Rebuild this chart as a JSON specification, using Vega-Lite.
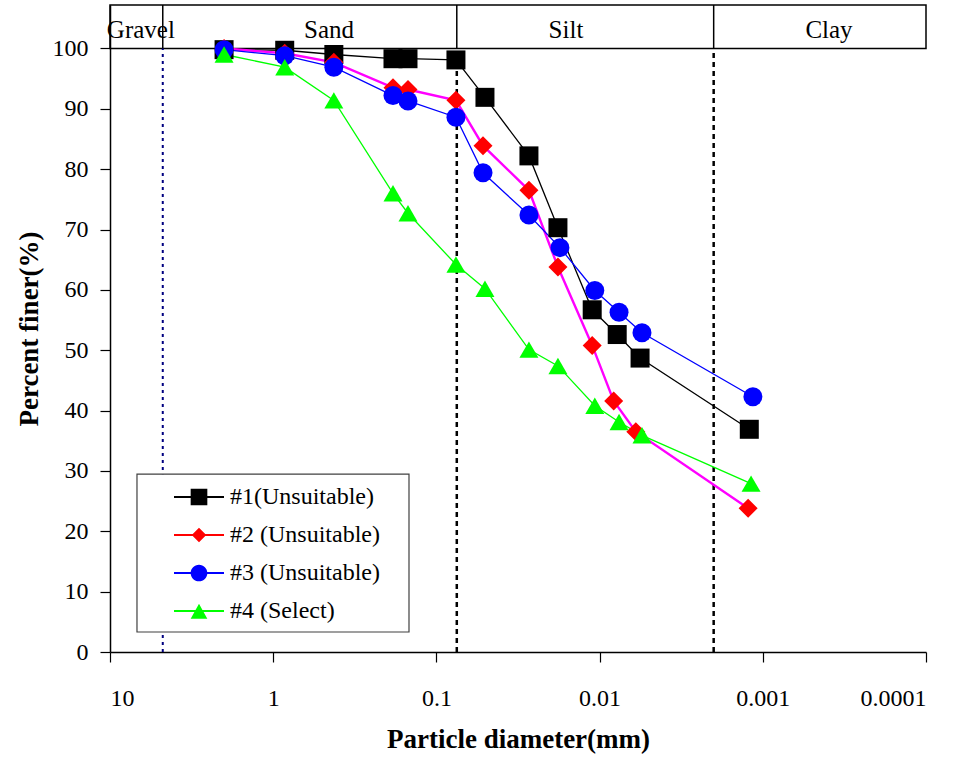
{
  "$schema": "https://vega.github.io/schema/vega-lite/v6.json",
  "width": 816,
  "height": 647,
  "autosize": {"type": "none"},
  "padding": {"left": 110, "top": 5, "right": 38, "bottom": 107},
  "background": "white",
  "config": {
    "view": {"stroke": null},
    "font": "Liberation Serif",
    "axis": {
      "grid": false,
      "domainColor": "black",
      "domainWidth": 1.5,
      "tickColor": "black",
      "tickWidth": 1.2,
      "tickSize": 10,
      "labelFont": "Liberation Serif",
      "labelFontSize": 24,
      "labelColor": "black",
      "titleFont": "Liberation Serif",
      "titleFontSize": 27,
      "titleFontWeight": "bold",
      "titleColor": "black"
    }
  },
  "datasets": {
    "curves": [
      {"series": "#1(Unsuitable)", "d": 2.0, "pct": 99.8},
      {"series": "#1(Unsuitable)", "d": 0.85, "pct": 99.7},
      {"series": "#1(Unsuitable)", "d": 0.425, "pct": 99.0},
      {"series": "#1(Unsuitable)", "d": 0.1845, "pct": 98.3},
      {"series": "#1(Unsuitable)", "d": 0.1493, "pct": 98.3},
      {"series": "#1(Unsuitable)", "d": 0.0759, "pct": 98.1},
      {"series": "#1(Unsuitable)", "d": 0.0504, "pct": 91.9},
      {"series": "#1(Unsuitable)", "d": 0.0271, "pct": 82.2},
      {"series": "#1(Unsuitable)", "d": 0.018, "pct": 70.3},
      {"series": "#1(Unsuitable)", "d": 0.0111, "pct": 56.7},
      {"series": "#1(Unsuitable)", "d": 0.0078, "pct": 52.6},
      {"series": "#1(Unsuitable)", "d": 0.00565, "pct": 48.7},
      {"series": "#1(Unsuitable)", "d": 0.00121, "pct": 36.9},
      {"series": "#2 (Unsuitable)", "d": 2.0, "pct": 100},
      {"series": "#2 (Unsuitable)", "d": 0.85, "pct": 99.2},
      {"series": "#2 (Unsuitable)", "d": 0.425, "pct": 97.7},
      {"series": "#2 (Unsuitable)", "d": 0.1845, "pct": 93.5},
      {"series": "#2 (Unsuitable)", "d": 0.1493, "pct": 93.2},
      {"series": "#2 (Unsuitable)", "d": 0.0759, "pct": 91.4},
      {"series": "#2 (Unsuitable)", "d": 0.0518, "pct": 83.9},
      {"series": "#2 (Unsuitable)", "d": 0.0271, "pct": 76.5},
      {"series": "#2 (Unsuitable)", "d": 0.018, "pct": 63.8},
      {"series": "#2 (Unsuitable)", "d": 0.0111, "pct": 50.8},
      {"series": "#2 (Unsuitable)", "d": 0.0082, "pct": 41.6},
      {"series": "#2 (Unsuitable)", "d": 0.006, "pct": 36.5},
      {"series": "#2 (Unsuitable)", "d": 0.00123, "pct": 23.8},
      {"series": "#3 (Unsuitable)", "d": 2.0, "pct": 99.8},
      {"series": "#3 (Unsuitable)", "d": 0.85, "pct": 98.8},
      {"series": "#3 (Unsuitable)", "d": 0.425, "pct": 96.9},
      {"series": "#3 (Unsuitable)", "d": 0.1845, "pct": 92.2},
      {"series": "#3 (Unsuitable)", "d": 0.1493, "pct": 91.3},
      {"series": "#3 (Unsuitable)", "d": 0.0759, "pct": 88.6},
      {"series": "#3 (Unsuitable)", "d": 0.0518, "pct": 79.4},
      {"series": "#3 (Unsuitable)", "d": 0.0271, "pct": 72.4},
      {"series": "#3 (Unsuitable)", "d": 0.0175, "pct": 67.0},
      {"series": "#3 (Unsuitable)", "d": 0.0107, "pct": 59.9},
      {"series": "#3 (Unsuitable)", "d": 0.0076, "pct": 56.3},
      {"series": "#3 (Unsuitable)", "d": 0.0055, "pct": 52.9},
      {"series": "#3 (Unsuitable)", "d": 0.00115, "pct": 42.3},
      {"series": "#4 (Select)", "d": 2.0, "pct": 99.0},
      {"series": "#4 (Select)", "d": 0.85, "pct": 96.9},
      {"series": "#4 (Select)", "d": 0.425, "pct": 91.4},
      {"series": "#4 (Select)", "d": 0.1845, "pct": 76.0},
      {"series": "#4 (Select)", "d": 0.1493, "pct": 72.7},
      {"series": "#4 (Select)", "d": 0.0759, "pct": 64.2},
      {"series": "#4 (Select)", "d": 0.0504, "pct": 60.2},
      {"series": "#4 (Select)", "d": 0.0271, "pct": 50.1},
      {"series": "#4 (Select)", "d": 0.018, "pct": 47.4},
      {"series": "#4 (Select)", "d": 0.0107, "pct": 40.8},
      {"series": "#4 (Select)", "d": 0.0076, "pct": 38.1},
      {"series": "#4 (Select)", "d": 0.0055, "pct": 35.9},
      {"series": "#4 (Select)", "d": 0.00118, "pct": 27.9}
    ],
    "zonelabels": [
      {"zone": "Gravel", "d": 6.47},
      {"zone": "Sand", "d": 0.455},
      {"zone": "Silt", "d": 0.01607},
      {"zone": "Clay", "d": 0.000393}
    ],
    "zonelimits": [
      {"d": 4.75},
      {"d": 0.075},
      {"d": 0.002}
    ],
    "frames": [
      {"part": "band", "dmax": 10, "dmin": 0.0001, "plo": 100, "phi": 107.2},
      {"part": "legendbox", "dmax": 6.834, "dmin": 0.1472, "plo": 3.31, "phi": 29.47}
    ]
  },
  "layer": [
    {
      "data": {"name": "frames"},
      "transform": [{"filter": "datum.part === 'band'"}],
      "mark": {"type": "rect", "fill": "white", "fillOpacity": 0, "stroke": "black", "strokeWidth": 1.5},
      "encoding": {
        "x": {"field": "dmax", "type": "quantitative", "scale": {"type": "log", "domain": [0.0001, 10], "reverse": true, "nice": false}},
        "x2": {"field": "dmin"},
        "y": {"field": "plo", "type": "quantitative", "scale": {"domain": [0, 107.2], "nice": false, "zero": true}},
        "y2": {"field": "phi"}
      }
    },
    {
      "data": {"name": "zonelimits"},
      "mark": {"type": "rule", "color": "black", "strokeWidth": 1.5},
      "encoding": {
        "x": {"field": "d", "type": "quantitative"},
        "y": {"datum": 100, "type": "quantitative"},
        "y2": {"datum": 107.2}
      }
    },
    {
      "data": {"name": "zonelabels"},
      "mark": {"type": "text", "font": "Liberation Serif", "fontSize": 25, "color": "black", "align": "center", "baseline": "alphabetic"},
      "encoding": {
        "x": {"field": "d", "type": "quantitative"},
        "y": {"datum": 101.8, "type": "quantitative"},
        "text": {"field": "zone"}
      }
    },
    {
      "data": {"name": "zonelimits"},
      "transform": [{"filter": "datum.d > 1"}],
      "mark": {"type": "rule", "color": "#000080", "strokeWidth": 2, "strokeDash": [3, 4]},
      "encoding": {
        "x": {"field": "d", "type": "quantitative"},
        "y": {"datum": 0, "type": "quantitative"},
        "y2": {"datum": 100}
      }
    },
    {
      "data": {"name": "zonelimits"},
      "transform": [{"filter": "datum.d < 1"}],
      "mark": {"type": "rule", "color": "black", "strokeWidth": 2.5, "strokeDash": [5, 4]},
      "encoding": {
        "x": {"field": "d", "type": "quantitative"},
        "y": {"datum": 0, "type": "quantitative"},
        "y2": {"datum": 100}
      }
    },
    {
      "data": {"name": "frames"},
      "transform": [{"filter": "datum.part === 'legendbox'"}],
      "mark": {"type": "rect", "fill": "white", "stroke": "#404040", "strokeWidth": 1.2},
      "encoding": {
        "x": {"field": "dmax", "type": "quantitative"},
        "x2": {"field": "dmin"},
        "y": {"field": "plo", "type": "quantitative"},
        "y2": {"field": "phi"}
      }
    },
    {
      "data": {"name": "curves"},
      "mark": {"type": "line"},
      "encoding": {
        "x": {
          "field": "d",
          "type": "quantitative",
          "axis": {
            "title": "Particle diameter(mm)",
            "values": [10, 1, 0.1, 0.01, 0.001, 0.0001],
            "labelExpr": "format(datum.value, '~g')",
            "labelPadding": 24,
            "titlePadding": 16
          }
        },
        "y": {
          "field": "pct",
          "type": "quantitative",
          "axis": {
            "title": "Percent finer(%)",
            "values": [0, 10, 20, 30, 40, 50, 60, 70, 80, 90, 100],
            "labelPadding": 12,
            "titlePadding": 9
          }
        },
        "detail": {"field": "series", "type": "nominal"},
        "stroke": {
          "condition": [
            {"test": "datum.series === '#1(Unsuitable)'", "value": "black"},
            {"test": "datum.series === '#2 (Unsuitable)'", "value": "#FF00FF"},
            {"test": "datum.series === '#3 (Unsuitable)'", "value": "#0000FF"}
          ],
          "value": "#00FF00"
        },
        "strokeWidth": {
          "condition": {"test": "datum.series === '#2 (Unsuitable)'", "value": 2.4},
          "value": 1.3
        },
        "order": {"field": "d", "type": "quantitative", "sort": "descending"}
      }
    },
    {
      "data": {"name": "curves"},
      "mark": {"type": "point", "filled": true, "opacity": 1, "size": 361, "strokeWidth": 0},
      "encoding": {
        "x": {"field": "d", "type": "quantitative"},
        "y": {"field": "pct", "type": "quantitative"},
        "fill": {
          "condition": [
            {"test": "datum.series === '#1(Unsuitable)'", "value": "black"},
            {"test": "datum.series === '#2 (Unsuitable)'", "value": "#FF0000"},
            {"test": "datum.series === '#3 (Unsuitable)'", "value": "#0000FF"}
          ],
          "value": "#00FF00"
        },
        "shape": {
          "condition": [
            {"test": "datum.series === '#1(Unsuitable)'", "value": "square"},
            {"test": "datum.series === '#2 (Unsuitable)'", "value": "diamond"},
            {"test": "datum.series === '#3 (Unsuitable)'", "value": "circle"}
          ],
          "value": "triangle-up"
        }
      }
    },
    {
      "data": {"name": "curves"},
      "transform": [{"filter": "false"}],
      "mark": {"type": "point", "filled": true, "opacity": 1, "strokeWidth": 0},
      "encoding": {
        "x": {"field": "d", "type": "quantitative"},
        "y": {"field": "pct", "type": "quantitative"},
        "fill": {
          "field": "series",
          "type": "nominal",
          "scale": {"domain": ["#1(Unsuitable)", "#2 (Unsuitable)", "#3 (Unsuitable)", "#4 (Select)"], "range": ["black", "#FF0000", "#0000FF", "#00FF00"]},
          "legend": {
            "orient": "none", "legendX": 64, "legendY": 467, "title": null, "padding": 0,
            "symbolSize": 2500, "symbolStrokeWidth": 0, "symbolOpacity": 1,
            "labelFont": "Liberation Serif", "labelFontSize": 24, "labelColor": "black", "labelOffset": 6, "labelLimit": 400, "rowPadding": 1
          }
        },
        "shape": {
          "field": "series",
          "type": "nominal",
          "scale": {
            "domain": ["#1(Unsuitable)", "#2 (Unsuitable)", "#3 (Unsuitable)", "#4 (Select)"],
            "range": [
              "M-1,-0.04H1V0.04H-1ZM-0.333,-0.333H0.333V0.333H-0.333Z",
              "M-1,-0.04H1V0.04H-1ZM0,-0.29L0.29,0L0,0.29L-0.29,0Z",
              "M-1,-0.04H1V0.04H-1ZM-0.333,0A0.333,0.333,0,1,1,0.333,0A0.333,0.333,0,1,1,-0.333,0Z",
              "M-1,-0.04H1V0.04H-1ZM0,-0.29L0.333,0.31H-0.333Z"
            ]
          },
          "legend": {
            "orient": "none", "legendX": 64, "legendY": 467, "title": null, "padding": 0,
            "symbolSize": 2500, "symbolStrokeWidth": 0, "symbolOpacity": 1,
            "labelFont": "Liberation Serif", "labelFontSize": 24, "labelColor": "black", "labelOffset": 6, "labelLimit": 400, "rowPadding": 1
          }
        }
      }
    }
  ]
}
